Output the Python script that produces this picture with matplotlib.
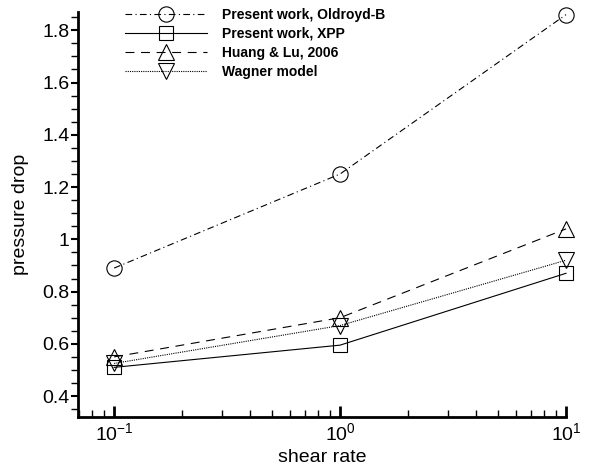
import matplotlib.pyplot as plt
from matplotlib.ticker import MultipleLocator, LogLocator

shear_rate = [0.1, 1.0, 10.0]
oldroyd_b = [0.89, 1.25, 1.86]
xpp = [0.51, 0.595, 0.87]
huang_lu = [0.55, 0.70, 1.04]
wagner = [0.525, 0.67, 0.92]

labels = ["Present work, Oldroyd-B", "Present work, XPP",
          "Huang & Lu, 2006", "Wagner model"]

plt.rcParams['font.family'] = ['Liberation Sans', 'DejaVu Sans']

fig = plt.figure(figsize=(6.05, 4.68), dpi=100)
ax = fig.add_axes([78 / 605, 51 / 468, (566 - 78) / 605, (417 - 12) / 468])

mk = dict(markersize=11, markerfacecolor='none', markeredgecolor='black',
          markeredgewidth=0.8, clip_on=False)
ax.plot(shear_rate, oldroyd_b, color='black', lw=0.8, ls=(0, (6, 3, 1, 3)), marker='o', label=labels[0], **mk)
ax.plot(shear_rate, xpp, color='black', lw=0.8, ls='-', marker='s', label=labels[1],
        markersize=9.5, markerfacecolor='none', markeredgecolor='black', markeredgewidth=0.8, clip_on=False)
ax.plot(shear_rate, huang_lu, color='black', lw=0.8, ls=(0, (8, 6)), marker='^', label=labels[2], **mk)
ax.plot(shear_rate, wagner, color='black', lw=0.8, ls=(0, (1, 1)), marker='v', label=labels[3], **mk)

ax.set_xscale('log')
ax.set_xlim(10 ** -1.16, 10)
ax.set_ylim(0.32, 1.87)
ax.set_xticks([0.1, 1, 10])
ax.xaxis.set_minor_locator(LogLocator(base=10, subs=range(2, 10)))
ax.yaxis.set_major_locator(MultipleLocator(0.2))
ax.yaxis.set_minor_locator(MultipleLocator(0.05))
ax.yaxis.set_major_formatter(plt.FuncFormatter(lambda v, p: f"{v:g}"))

for s in ['top', 'right']:
    ax.spines[s].set_visible(False)
ax.spines['left'].set_linewidth(2)
ax.spines['bottom'].set_linewidth(2)

ax.tick_params(axis='x', which='major', direction='in', length=8, width=2, labelsize=14, pad=4)
ax.tick_params(axis='x', which='minor', direction='in', length=5, width=1)
ax.tick_params(axis='y', which='major', direction='out', length=5, width=1.5, labelsize=14, pad=1)
ax.tick_params(axis='y', which='minor', direction='out', length=5, width=1)

ax.set_xlabel("shear rate", fontsize=14, labelpad=3)
ax.set_ylabel("pressure drop", fontsize=14, labelpad=10)

leg = ax.legend(loc='upper left', bbox_to_anchor=(0.096, 1.01), frameon=False,
                prop={'weight': 'bold', 'size': 10}, handlelength=5.9,
                handletextpad=1.1, labelspacing=0.35, borderaxespad=0,
                borderpad=0)

fig.savefig("out.png", dpi=100)
